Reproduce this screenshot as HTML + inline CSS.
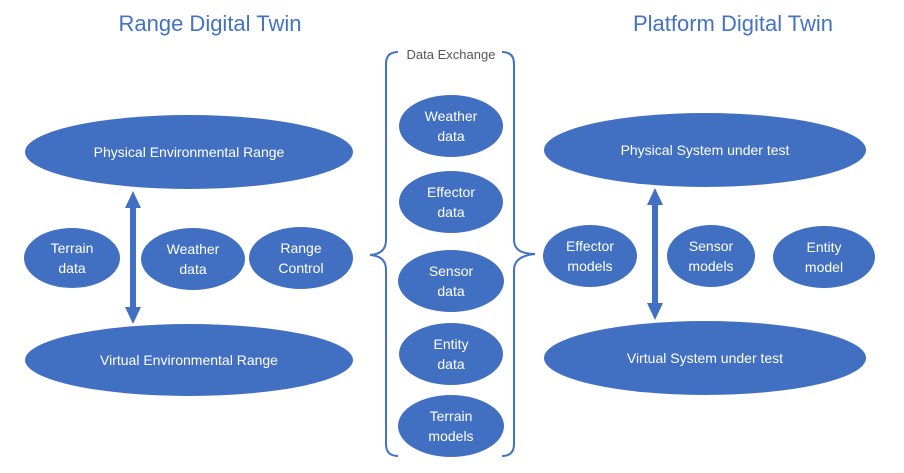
<!DOCTYPE html>
<html><head><style>body{margin:0;background:#fff}</style></head><body>
<svg width="904" height="468" xmlns="http://www.w3.org/2000/svg" font-family="Liberation Sans, sans-serif">
<g fill="#4472C4">
<text x="210" y="31" font-size="22" text-anchor="middle">Range Digital Twin</text>
<text x="733" y="31" font-size="22" text-anchor="middle">Platform Digital Twin</text>
</g>
<g fill="#4170c2">
<ellipse cx="189" cy="152" rx="164" ry="37"/>
<ellipse cx="189" cy="360" rx="164" ry="36"/>
<ellipse cx="72" cy="258" rx="48" ry="30"/>
<ellipse cx="193" cy="259" rx="52" ry="31"/>
<ellipse cx="301" cy="258" rx="52" ry="31"/>
<ellipse cx="451" cy="126" rx="52" ry="31"/>
<ellipse cx="451" cy="202" rx="52" ry="31"/>
<ellipse cx="451" cy="281" rx="53" ry="31"/>
<ellipse cx="451" cy="354" rx="52" ry="31"/>
<ellipse cx="451" cy="426" rx="53" ry="31"/>
<ellipse cx="705" cy="150" rx="161" ry="37"/>
<ellipse cx="705" cy="358" rx="161" ry="37"/>
<ellipse cx="590" cy="256" rx="47" ry="31"/>
<ellipse cx="711" cy="256" rx="44" ry="31"/>
<ellipse cx="824" cy="257" rx="51" ry="31"/>
<!-- arrows -->
<rect x="130" y="206" width="6" height="104"/>
<polygon points="133,191 125,208 141,208"/>
<polygon points="133,324 125,307 141,307"/>
<rect x="652" y="203" width="6" height="102"/>
<polygon points="655,188 647,205 663,205"/>
<polygon points="655,320 647,303 663,303"/>
</g>
<g fill="none" stroke="#4472C4" stroke-width="2">
<path d="M398,52 Q386,52 386,64 L386,240 Q386,254 370,255 Q386,256 386,270 L386,444 Q386,456 398,456"/>
<path d="M502,52 Q514,52 514,64 L514,240 Q514,254 535,254 Q514,256 514,270 L514,444 Q514,456 502,456"/>
</g>
<rect x="400" y="45" width="102" height="16" fill="#fff"/>
<text x="451" y="59" font-size="13" fill="#555" text-anchor="middle">Data Exchange</text>
<g fill="#fff" font-size="14" text-anchor="middle">
<text x="189" y="157">Physical Environmental Range</text>
<text x="189" y="365">Virtual Environmental Range</text>
<text x="72" y="253">Terrain</text><text x="72" y="273">data</text>
<text x="193" y="254">Weather</text><text x="193" y="274">data</text>
<text x="301" y="253">Range</text><text x="301" y="273">Control</text>
<text x="451" y="121">Weather</text><text x="451" y="141">data</text>
<text x="451" y="197">Effector</text><text x="451" y="217">data</text>
<text x="451" y="276">Sensor</text><text x="451" y="296">data</text>
<text x="451" y="349">Entity</text><text x="451" y="369">data</text>
<text x="451" y="421">Terrain</text><text x="451" y="441">models</text>
<text x="705" y="155">Physical System under test</text>
<text x="705" y="363">Virtual System under test</text>
<text x="590" y="251">Effector</text><text x="590" y="271">models</text>
<text x="711" y="251">Sensor</text><text x="711" y="271">models</text>
<text x="824" y="252">Entity</text><text x="824" y="272">model</text>
</g>
</svg>
</body></html>
